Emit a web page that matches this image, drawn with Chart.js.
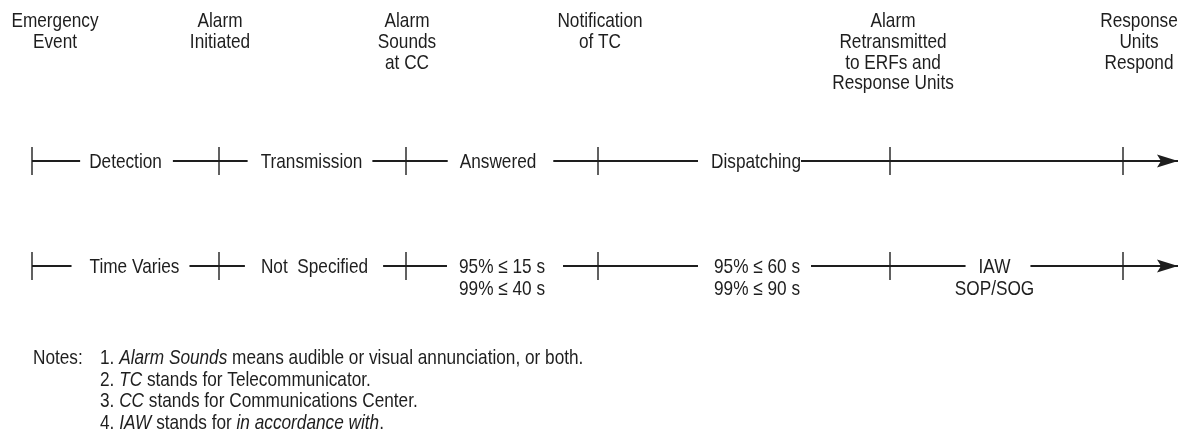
<!DOCTYPE html>
<html>
<head>
<meta charset="utf-8">
<script src="https://cdn.jsdelivr.net/npm/chart.js@4.4.1/dist/chart.umd.min.js"></script>
<style>
  html, body { margin: 0; padding: 0; background: #fff; }
  #wrap { width: 1179px; height: 441px; position: relative; }
</style>
</head>
<body>
<div id="wrap"><canvas id="timeline"></canvas></div>
<script>
// milestones along the alarm processing timeline (header text, one entry per line)
const milestoneNames = [
  ['Emergency', 'Event'],
  ['Alarm', 'Initiated'],
  ['Alarm', 'Sounds', 'at CC'],
  ['Notification', 'of TC'],
  ['Alarm', 'Retransmitted', 'to ERFs and', 'Response Units'],
  ['Response', 'Units', 'Respond']
];
// relative position of each milestone on the timeline axis
const milestonePos = [0, 187, 374, 566, 858, 1091];
const axisEnd = 1146;

// the two rows of the diagram
const rowValues = [1, 2];
const phaseLabels = [['Detection'], ['Transmission'], ['Answered'], ['Dispatching']];
const timeLabels = [['Time Varies'], ['Not  Specified'], ['95% \u2264 15 s', '99% \u2264 40 s'], ['95% \u2264 60 s', '99% \u2264 90 s'], ['IAW', 'SOP/SOG']];

// notes: runs of [text, italic]
const notes = [
  [['1. ', 0], ['Alarm Sounds', 1], [' means audible or visual annunciation, or both.', 0]],
  [['2. ', 0], ['TC', 1], [' stands for Telecommunicator.', 0]],
  [['3. ', 0], ['CC', 1], [' stands for Communications Center.', 0]],
  [['4. ', 0], ['IAW', 1], [' stands for ', 0], ['in accordance with', 1], ['.', 0]]
];

const INK = '#1e1e1e';
const SIZE = 21;

// check whether the narrow font is there, otherwise squeeze the regular one
const probe = document.createElement('canvas').getContext('2d');
probe.font = SIZE + 'px "Liberation Sans Narrow", monospace';
const wNarrow = probe.measureText('Emergency Detection').width;
probe.font = SIZE + 'px monospace';
const wMono = probe.measureText('Emergency Detection').width;
const hasNarrow = wNarrow !== wMono;
const family = hasNarrow ? '"Liberation Sans Narrow", "Liberation Sans", Arial, sans-serif' : '"Liberation Sans", Arial, sans-serif';
const squeeze = hasNarrow ? 1 : 0.82;

function setFont(ctx, italic) {
  ctx.font = (italic ? 'italic ' : '') + SIZE + 'px ' + family;
}
function textWidth(ctx, str, italic) {
  setFont(ctx, italic);
  return ctx.measureText(str).width * squeeze;
}
function drawText(ctx, str, x, y, align, italic) {
  ctx.save();
  setFont(ctx, italic);
  ctx.translate(x, y);
  ctx.scale(squeeze, 1);
  ctx.textAlign = align;
  ctx.textBaseline = 'alphabetic';
  ctx.fillStyle = INK;
  ctx.fillText(str, 0, 0);
  ctx.restore();
}

// layout tweaks
const headerShift = [23, 1, 1, 2, 3, 16];
const labelShift = [[0, -1, -4, 12], [9, 2, 0, 13, -12]];
const gapPad = [[[9, 11], [13, 10], [12, 17], [13, 0]], [[18, 10], [16, 15], [12, 18], [16, 11], [13, 20]]];

// arrow head used as point style at the end of each row
const arrowHead = document.createElement('canvas');
arrowHead.width = 44; arrowHead.height = 16;
(function () {
  const c = arrowHead.getContext('2d');
  c.fillStyle = INK;
  c.beginPath();
  c.moveTo(22, 8);
  c.lineTo(1, 1.5);
  c.lineTo(5, 8);
  c.lineTo(1, 14.5);
  c.closePath();
  c.fill();
})();

const diagramText = {
  id: 'diagramText',
  afterDatasetsDraw(chart) {
    const { ctx, scales: { x, y } } = chart;
    ctx.save();
    // milestone headers
    milestoneNames.forEach((lines, i) => {
      const cx = x.getPixelForValue(milestonePos[i]) + headerShift[i];
      lines.forEach((t, k) => drawText(ctx, t, cx, 27 + k * 20.8, 'center'));
    });
    // labels sitting in gaps of the two timeline rows
    [phaseLabels, timeLabels].forEach((labels, r) => {
      const py = y.getPixelForValue(rowValues[r]);
      labels.forEach((lines, i) => {
        const a = x.getPixelForValue(milestonePos[i]);
        const b = x.getPixelForValue(milestonePos[i + 1]);
        const cx = (a + b) / 2 + labelShift[r][i];
        const w = textWidth(ctx, lines[0]);
        const [pl, pr] = gapPad[r][i];
        ctx.fillStyle = '#fff';
        ctx.fillRect(cx - w / 2 - pl, py - 4, w + pl + pr, 8);
        lines.forEach((t, k) => drawText(ctx, t, cx, py + 7.5 + k * 22, 'center'));
      });
    });
    // notes
    drawText(ctx, 'Notes:', 33, 364, 'left');
    notes.forEach((runs, k) => {
      let nx = 100;
      runs.forEach(([t, it]) => {
        drawText(ctx, t, nx, 364 + k * 21.5, 'left', it);
        nx += textWidth(ctx, t, it);
      });
    });
    ctx.restore();
  }
};

const rowLine = (rv) => ({
  type: 'line',
  data: [{ x: milestonePos[0], y: rv }, { x: axisEnd, y: rv }],
  borderColor: INK,
  borderWidth: 1.8,
  pointRadius: 0,
  clip: false
});

const tickPoints = [];
rowValues.forEach(rv => milestonePos.forEach(p => tickPoints.push({ x: p, y: rv })));

new Chart(document.getElementById('timeline'), {
  type: 'scatter',
  data: {
    datasets: [
      {
        data: tickPoints,
        pointStyle: 'line',
        rotation: 90,
        pointRadius: 14,
        pointBorderWidth: 1.4,
        pointBorderColor: INK,
        clip: false
      },
      {
        data: rowValues.map(rv => ({ x: axisEnd, y: rv })),
        pointStyle: arrowHead,
        pointRadius: 10,
        clip: false
      },
      rowLine(rowValues[0]),
      rowLine(rowValues[1])
    ]
  },
  options: {
    responsive: true,
    maintainAspectRatio: false,
    animation: false,
    layout: { padding: 0, autoPadding: false },
    plugins: { legend: { display: false }, tooltip: { enabled: false } },
    scales: {
      x: { type: 'linear', min: -32, max: 1147, display: false },
      y: { type: 'linear', min: -0.5333, max: 3.6667, reverse: true, display: false }
    }
  },
  plugins: [diagramText]
});
</script>
</body>
</html>
